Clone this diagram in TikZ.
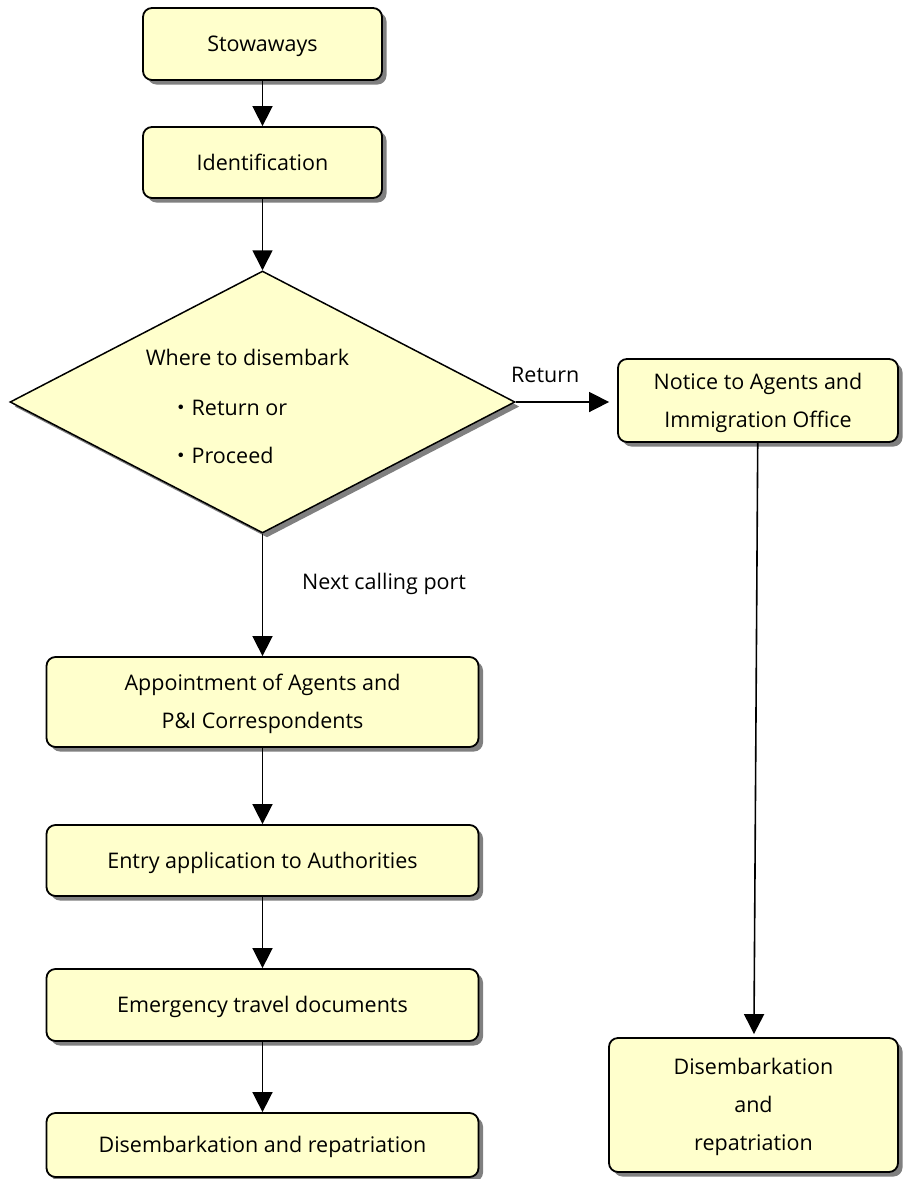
\documentclass[tikz,border=0pt]{standalone}
\usepackage{fontspec}
\setmainfont{Open Sans}
\newfontfamily\cjk{Noto Sans CJK JP}
\usetikzlibrary{arrows.meta,shapes.geometric,shadows}
\definecolor{boxfill}{HTML}{FFFFCC}
\definecolor{shadowgray}{HTML}{808080}
\begin{document}
\begin{tikzpicture}[x=1pt,y=-1pt,
  every node/.style={font=\fontsize{21.5}{38}\selectfont},
  shadowed/.style={drop shadow={shadow xshift=4.5pt, shadow yshift=-4.5pt, fill=shadowgray, opacity=1}},
  box/.style={draw=black, line width=1.8pt, fill=boxfill, rounded corners=9pt, shadowed,
    inner sep=0pt, text height=15.35pt, text depth=0pt, align=center},
  twolines/.style={text height=53.35pt},
  threelines/.style={text height=91.35pt},
  decision/.style={draw=black, line width=1.5pt, fill=boxfill, diamond, inner sep=0pt, shadowed},
  arr/.style={line width=1.6pt, -{Triangle[length=20pt,width=20pt]}},
  lbl/.style={inner sep=0pt, anchor=base west}]
\fill[white] (0,0) rectangle (907,1179);
\useasboundingbox (0,0) rectangle (907,1179);

% left column
\node[box, minimum width=239pt, minimum height=72pt] (stow) at (262.5,44) {Stowaways};
\node[box, minimum width=239pt, minimum height=71pt] (ident) at (262.5,162.5) {Identification};
\node[decision, minimum width=505pt, minimum height=262pt] (dia) at (262.5,402) {};
\node[box, twolines, minimum width=432pt, minimum height=90pt] (appt) at (262.5,702) {Appointment of Agents and\\P\&I Correspondents};
\node[box, minimum width=432pt, minimum height=71pt] (entry) at (262.5,860.5) {Entry application to Authorities};
\node[box, minimum width=432pt, minimum height=72pt] (emerg) at (262.5,1005) {Emergency travel documents};
\node[box, minimum width=432pt, minimum height=64pt] (disl) at (262.5,1145) {Disembarkation and repatriation};

% right column
\node[box, twolines, minimum width=280pt, minimum height=83pt] (notice) at (758,400.5) {Notice to Agents and\\Immigration Office};
\node[box, threelines, minimum width=289pt, minimum height=134pt] (disr) at (753.5,1105) {Disembarkation\\and\\repatriation};

% decision text
\node[inner sep=0pt, anchor=base] (q1) at (247.5,365) {Where to disembark};
\node[lbl] (q2) at (170,415) {{\cjk ・}Return or};
\node[lbl] (q3) at (170,463) {{\cjk ・}Proceed};

% connectors
\draw[arr] (stow) -- (ident);
\draw[arr] (ident) -- (dia);
\draw[arr, shorten >=8pt] (dia.east) -- (dia.east -| notice.west);
\draw[arr] (dia) -- (appt);
\draw[arr] (appt) -- (entry);
\draw[arr] (entry) -- (emerg);
\draw[arr] (emerg) -- (disl);
\draw[arr, shorten >=3pt] (notice) -- (disr);

% connector labels
\node[lbl] (lret) at (511,382) {Return};
\node[lbl] (lnext) at (302,589) {Next calling port};
\end{tikzpicture}
\end{document}
